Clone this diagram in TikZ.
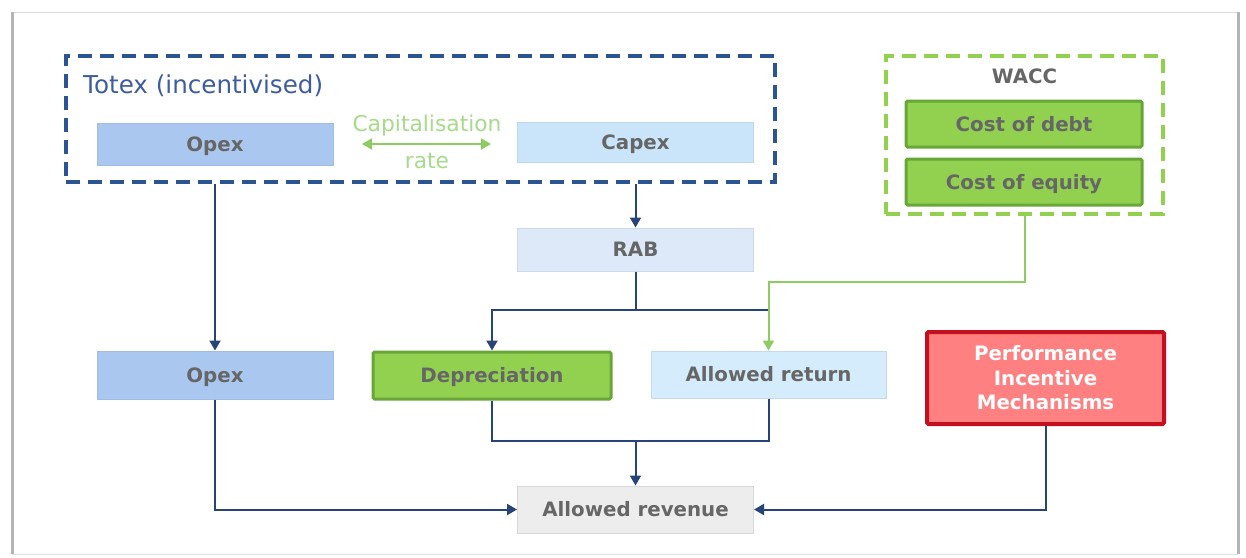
\documentclass[tikz,border=0pt]{standalone}
\usepackage{fontspec}
\setmainfont{DejaVu Sans}
\usetikzlibrary{arrows.meta}
\definecolor{framegray}{RGB}{180,180,180}
\definecolor{totexblue}{RGB}{42,84,148}
\definecolor{totextext}{RGB}{62,92,160}
\definecolor{connblue}{RGB}{38,68,120}
\definecolor{opexfill}{RGB}{170,199,240}
\definecolor{opexline}{RGB}{160,188,228}
\definecolor{capexfill}{RGB}{202,229,250}
\definecolor{capexline}{RGB}{188,214,236}
\definecolor{rabfill}{RGB}{221,232,249}
\definecolor{rabline}{RGB}{205,216,234}
\definecolor{retfill}{RGB}{213,236,252}
\definecolor{retline}{RGB}{196,218,236}
\definecolor{gfill}{RGB}{146,208,80}
\definecolor{gline}{RGB}{104,166,56}
\definecolor{gdash}{RGB}{146,208,80}
\definecolor{gtext}{RGB}{168,218,140}
\definecolor{garrowc}{RGB}{140,204,96}
\definecolor{pimfill}{RGB}{255,128,128}
\definecolor{pimline}{RGB}{196,16,30}
\definecolor{revfill}{RGB}{237,237,237}
\definecolor{revline}{RGB}{216,216,216}
\definecolor{labelgray}{RGB}{102,102,102}
\tikzset{
  lbl/.style={font=\fontsize{19.8}{24.5}\selectfont\bfseries, text=labelgray, inner sep=0pt, text height=14.5pt, text depth=0pt},
  plainbox/.style={lbl, rectangle, line width=1pt, minimum width=236pt, minimum height=42pt},
  greenbox/.style={lbl, rectangle, fill=gfill, draw=gline, line width=3pt, rounded corners=1.5pt, minimum width=236pt, minimum height=46pt},
  conn/.style={draw=connblue, line width=2pt},
  gconn/.style={draw=garrowc, line width=2pt},
  tip/.style={-{Triangle[width=11pt,length=10pt]}},
  dashedblue/.style={draw=totexblue, line width=4pt, dash pattern=on 14pt off 8pt, inner sep=0pt},
  dashedgreen/.style={draw=gdash, line width=4pt, dash pattern=on 14pt off 8pt, inner sep=0pt},
}
\begin{document}
\begin{tikzpicture}[x=1pt,y=-1pt]
\useasboundingbox (0,0) rectangle (1246,557);
\fill[white] (0,0) rectangle (1246,557);
% frame
\draw[framegray!50, line width=1pt] (12,12) -- (1238,12);
\draw[framegray, line width=3pt] (12,12) -- (12,554);
\draw[framegray, line width=3pt] (1238,12) -- (1238,554);
\draw[framegray!40, line width=1pt] (12,554) -- (1238,554);

% Totex group
\node[dashedblue, minimum width=709pt, minimum height=126pt] (totex) at (420.5,119) {};
\node[anchor=west, inner sep=0pt, text=totextext, font=\fontsize{24.6}{27}\selectfont] (totexlbl) at (83,86) {Totex (incentivised)};
\node[plainbox, fill=opexfill, draw=opexline] (opex1) at (215,144) {Opex};
\node[plainbox, fill=capexfill, draw=capexline, minimum height=40pt] (capex) at (635.5,142) {Capex};
\node[inner sep=0pt, text=gtext, font=\fontsize{21.8}{24}\selectfont] (caplbl) at (427,125) {Capitalisation};
\node[inner sep=0pt, text=gtext, font=\fontsize{21.8}{24}\selectfont] (ratelbl) at (427,161) {rate};
\coordinate (ca) at (362,144);
\coordinate (cb) at (491,144);
\draw[draw=garrowc, line width=2pt, {Triangle[width=11pt,length=10pt]}-{Triangle[width=11pt,length=10pt]}] (ca) -- (cb);

% RAB
\node[plainbox, fill=rabfill, draw=rabline, minimum height=43pt] (rab) at (635.5,249.5) {RAB};

% WACC group
\node[dashedgreen, minimum width=277pt, minimum height=158pt] (wacc) at (1024.5,135) {};
\node[lbl] (wacclbl) at (1024.5,76) {WACC};
\node[greenbox] (debt) at (1024,124) {Cost of debt};
\node[greenbox] (equity) at (1024,182) {Cost of equity};

% middle row
\node[plainbox, fill=opexfill, draw=opexline, minimum height=48pt] (opex2) at (215,375) {Opex};
\node[greenbox, minimum width=238pt, minimum height=47pt] (dep) at (492,375.5) {Depreciation};
\node[plainbox, fill=retfill, draw=retline, minimum width=235pt, minimum height=47pt] (ret) at (768.5,374.5) {Allowed return};
\node[lbl, rectangle, fill=pimfill, draw=pimline, line width=4pt, rounded corners=1.5pt, text=white, align=center, text height=, text depth=, minimum width=237pt, minimum height=92pt] (pim) at (1045.5,378) {Performance\\Incentive\\Mechanisms};

% bottom
\node[plainbox, fill=revfill, draw=revline, minimum height=47pt] (rev) at (635.5,509.5) {Allowed revenue};

% connectors
\draw[conn, tip] (totex.south -| opex1.south) -- (opex2.north);
\draw[conn, tip] (totex.south -| capex.south) -- (rab.north);
\coordinate (split) at (635.5,310);
\draw[conn] (rab.south) -- (split);
\draw[conn, tip] (split) -| (dep.north);
\draw[conn] (split) -- (split -| ret.north);
\coordinate (gj) at (1024.5,282);
\draw[gconn, tip] (wacc.south) -- (gj) -| (ret.north);
\coordinate (mj) at (635.5,441);
\draw[conn] (dep.south) |- (mj);
\draw[conn] (ret.south) |- (mj);
\draw[conn, tip] (mj) -- (rev.north);
\draw[conn, tip] (opex2.south) |- (rev.west);
\draw[conn, tip] (pim.south) |- (rev.east);
\end{tikzpicture}
\end{document}
